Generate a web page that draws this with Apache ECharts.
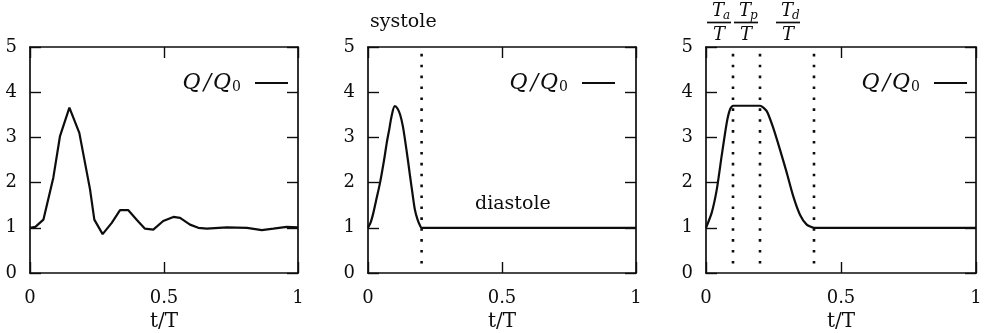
<!DOCTYPE html>
<html>
<head>
<meta charset="utf-8">
<script src="https://cdn.jsdelivr.net/npm/echarts@6/dist/echarts.min.js"></script>
<style>html,body{margin:0;padding:0;background:#fff}#c{width:986px;height:333px}</style>
</head>
<body>
<div id="c"></div>
<script>
// ---- data ----
const xTickLabels = ['0', '0.5', '1'];
const yTickLabels = ['0', '1', '2', '3', '4', '5'];
const xAxisName = 't/T';
const seriesName = 'Q/Q0';

// panel 1: measured flow
const t1 = [0, 0.02, 0.05, 0.087, 0.112, 0.147, 0.184, 0.224, 0.24, 0.271, 0.305, 0.336, 0.367, 0.398, 0.429, 0.46, 0.497, 0.535, 0.56, 0.597, 0.628, 0.66, 0.734, 0.81, 0.865, 0.908, 0.958, 1.0];
const q1 = [1.0, 1.02, 1.18, 2.11, 3.03, 3.66, 3.10, 1.85, 1.18, 0.86, 1.11, 1.39, 1.39, 1.18, 0.98, 0.96, 1.15, 1.24, 1.22, 1.07, 1.0, 0.98, 1.01, 1.0, 0.95, 0.98, 1.02, 1.01];

// panel 2: systole pulse + diastole
const t2 = [0, 0.01, 0.02, 0.03, 0.045, 0.06, 0.07, 0.08, 0.088, 0.1, 0.11, 0.12, 0.13, 0.138, 0.15, 0.157, 0.165, 0.175, 0.185, 0.194, 0.2, 1.0];
const q2 = [1.0, 1.12, 1.33, 1.6, 2.0, 2.5, 2.88, 3.2, 3.47, 3.69, 3.64, 3.5, 3.25, 2.95, 2.45, 2.14, 1.8, 1.4, 1.18, 1.05, 1.0, 1.0];
const systoleEnd = [0.2];

// panel 3: trapezoidal pulse
const t3 = [0, 0.021, 0.04, 0.058, 0.077, 0.089, 0.1, 0.2, 0.225, 0.249, 0.274, 0.299, 0.323, 0.348, 0.373, 0.4, 1.0];
const q3 = [1.0, 1.33, 1.85, 2.59, 3.33, 3.62, 3.7, 3.7, 3.58, 3.21, 2.73, 2.22, 1.70, 1.29, 1.07, 1.0, 1.0];
const phaseEnds = [0.1, 0.2, 0.4];
const phaseLabels = ['a', 'p', 'd'];
const dottedExtent = [4.85, 0.2];

const textSystole = 'systole';
const textDiastole = 'diastole';

// ---- chart ----
const chart = echarts.init(document.getElementById('c'), null, {renderer: 'canvas'});
const INK = '#0d0d0d';
const SERIF = '"DejaVu Serif", "Liberation Serif", serif';

const grids = [
  {left: 30, top: 47, width: 268, height: 226, containLabel: false, outerBoundsMode: 'none'},
  {left: 368, top: 47, width: 268, height: 226, containLabel: false, outerBoundsMode: 'none'},
  {left: 706, top: 47, width: 270, height: 226, containLabel: false, outerBoundsMode: 'none'}
];

const xAxes = [], yAxes = [];
grids.forEach((g, i) => {
  const line = {show: true, onZero: false, lineStyle: {color: INK, width: 1.7}};
  const tick = {show: true, inside: true, length: 11, lineStyle: {color: INK, width: 1.4}};
  xAxes.push({
    type: 'value', gridIndex: i, position: 'bottom', min: 0, max: 1, interval: 0.5,
    axisLine: line, axisTick: tick, splitLine: {show: false},
    axisLabel: {margin: 16, color: INK, fontFamily: SERIF, fontSize: 18,
      formatter: v => xTickLabels[Math.round(v / 0.5)]},
    name: xAxisName, nameLocation: 'middle', nameGap: 38,
    nameTextStyle: {color: INK, fontFamily: SERIF, fontSize: 20}
  });
  xAxes.push({
    type: 'value', gridIndex: i, position: 'top', min: 0, max: 1, interval: 0.5,
    axisLine: line, axisTick: tick, splitLine: {show: false}, axisLabel: {show: false}
  });
  yAxes.push({
    type: 'value', gridIndex: i, position: 'left', min: 0, max: 5, interval: 1,
    axisLine: line, axisTick: tick, splitLine: {show: false},
    axisLabel: {margin: 13, color: INK, fontFamily: SERIF, fontSize: 18,
      formatter: v => yTickLabels[Math.round(v)]}
  });
  yAxes.push({
    type: 'value', gridIndex: i, position: 'right', min: 0, max: 5, interval: 1,
    axisLine: line, axisTick: tick, splitLine: {show: false}, axisLabel: {show: false}
  });
});

const zip = (a, b) => a.map((v, k) => [v, b[k]]);
const curveStyle = {color: INK, width: 2.2};
const series = [
  {name: seriesName, type: 'line', xAxisIndex: 0, yAxisIndex: 0, data: zip(t1, q1),
   showSymbol: false, symbol: 'none', lineStyle: curveStyle, itemStyle: {color: INK}},
  {name: seriesName, type: 'line', xAxisIndex: 2, yAxisIndex: 2, data: zip(t2, q2), smooth: 0.3,
   showSymbol: false, symbol: 'none', lineStyle: curveStyle, itemStyle: {color: INK}},
  {name: seriesName, type: 'line', xAxisIndex: 4, yAxisIndex: 4, data: zip(t3, q3), smooth: 0.2,
   showSymbol: false, symbol: 'none', lineStyle: curveStyle, itemStyle: {color: INK}}
];
const dotted = (x, xi, yi) => ({
  name: 'marker', type: 'line', xAxisIndex: xi, yAxisIndex: yi, silent: true,
  data: dottedExtent.map(y => [x, y]), symbol: 'none', showSymbol: false,
  lineStyle: {color: INK, width: 2.6, type: [2.6, 8.3], cap: 'butt'}, z: 1
});
systoleEnd.forEach(x => series.push(dotted(x, 2, 2)));
phaseEnds.forEach(x => series.push(dotted(x, 4, 4)));

const legendRich = {
  q: {fontFamily: SERIF, fontStyle: 'italic', fontSize: 22, color: INK},
  sl: {fontFamily: SERIF, fontStyle: 'italic', fontSize: 22, color: INK, padding: [0, 2, 0, 3]},
  s: {fontFamily: SERIF, fontSize: 14, color: INK, verticalAlign: 'bottom', padding: [8, 9, 0, 1]}
};
const legends = [693, 366, 14].map(r => ({
  data: [{name: seriesName, icon: 'rect'}], right: r, top: 67, orient: 'horizontal', align: 'right',
  itemWidth: 33, itemHeight: 2, selectedMode: false,
  formatter: () => '{q|Q}{sl|/}{q|Q}{s|0}',
  textStyle: {rich: legendRich}
}));

const graphic = [
  {type: 'text', left: 370, top: 13, style: {text: textSystole, font: '19px ' + SERIF, fill: INK}},
  {type: 'text', left: 475, top: 195, style: {text: textDiastole, font: '19px ' + SERIF, fill: INK}}
];
const fracCenters = [719, 746, 788];
phaseLabels.forEach((sub, k) => {
  const cx = fracCenters[k];
  graphic.push({
    type: 'text', x: cx - 1, y: 2,
    style: {text: 'T', align: 'center', verticalAlign: 'top', font: 'italic 18px ' + SERIF, fill: INK}
  });
  graphic.push({
    type: 'text', x: cx + 4, y: 10,
    style: {text: sub, align: 'left', verticalAlign: 'top', font: 'italic 12px ' + SERIF, fill: INK}
  });
  graphic.push({type: 'line', shape: {x1: cx - 12, y1: 22.5, x2: cx + 12, y2: 22.5}, style: {stroke: INK, lineWidth: 1.7}});
  graphic.push({
    type: 'text', x: cx, y: 26,
    style: {text: 'T', align: 'center', verticalAlign: 'top', font: 'italic 18px ' + SERIF, fill: INK}
  });
});

chart.setOption({
  backgroundColor: '#ffffff',
  animation: false,
  grid: grids,
  xAxis: xAxes,
  yAxis: yAxes,
  legend: legends,
  series: series,
  graphic: graphic
});
</script>
</body>
</html>
